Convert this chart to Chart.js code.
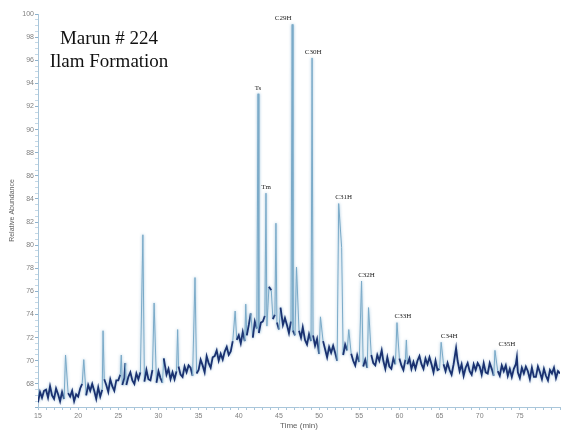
<!DOCTYPE html>
<html>
<head>
<meta charset="utf-8">
<script src="https://cdn.jsdelivr.net/npm/chart.js@4.4.1/dist/chart.umd.min.js"></script>
<style>
  html, body { margin: 0; padding: 0; background: #fff; }
</style>
</head>
<body>
<canvas id="tic" width="562" height="434"></canvas>
<script>
// baseline trace, one value every 0.25 min from 15 min
const startTime = 15;
const timeStep = 0.25;
const baseline = [
  66.4, 67.3, 66.8, 67.4,  67.5, 66.8, 67.8, 67.0,  66.7, 67.6, 67.1, 66.5,  67.3, 66.7, 66.3, 67.2,  66.9, 67.4, 66.5, 67.1,
  66.9, 67.6, 68.0, 67.3,  67.0, 67.9, 67.4, 68.0,  67.4, 66.7, 67.7, 66.9,  67.5, 68.4, 67.9, 67.3,  68.4, 67.8, 67.4, 68.3,
  68.3, 68.8, 67.9, 68.5,  67.9, 68.6, 69.0, 68.3,  68.0, 68.9, 68.4, 69.0,  68.9, 68.2, 69.2, 68.4,  68.3, 69.2, 68.7, 68.1,
  69.1, 68.5, 68.1, 69.0,  68.8, 69.3, 68.4, 69.0,  68.4, 69.1, 69.5, 68.8,  68.6, 69.5, 69.0, 69.6,  69.4, 68.7, 69.7, 68.9,
  69.2, 70.1, 69.6, 69.0,  70.4, 69.8, 69.4, 70.3,  70.4, 70.9, 70.0, 70.6,  70.1, 70.8, 71.2, 70.5,  70.8, 71.7, 71.2, 71.8,
  72.2, 71.5, 72.5, 71.7,  72.2, 73.1, 72.6, 72.0,  73.4, 72.8, 72.4, 73.3,  73.4, 73.9, 73.0, 73.6,  72.9, 73.6, 74.0, 73.3,
  72.7, 73.6, 73.1, 73.7,  73.1, 72.4, 73.4, 72.6,  72.2, 73.1, 72.6, 72.0,  72.4, 71.8, 71.4, 72.3,  71.7, 72.2, 71.3, 71.9,
  70.6, 71.3, 71.7, 71.0,  70.3, 71.2, 70.7, 71.3,  70.7, 70.0, 71.0, 70.2,  70.5, 71.4, 70.9, 70.3,  70.6, 70.0, 69.6, 70.5,
  69.9, 70.4, 69.5, 70.1,  69.4, 70.1, 70.5, 69.8,  69.6, 70.5, 70.0, 70.6,  70.0, 69.3, 70.3, 69.5,  69.3, 70.2, 69.7, 69.1,
  70.2, 69.6, 69.2, 70.1,  69.7, 70.2, 69.3, 69.9,  69.3, 70.0, 70.4, 69.7,  69.3, 70.2, 69.7, 70.3,  69.7, 69.0, 70.0, 69.2,
  69.3, 70.2, 69.7, 69.1,  69.8, 69.2, 68.8, 69.7,  69.5, 70.0, 69.1, 69.7,  68.7, 69.4, 69.8, 69.1,  68.8, 69.7, 69.2, 69.8,
  69.5, 68.8, 69.8, 69.0,  68.9, 69.8, 69.3, 68.7,  69.7, 69.1, 68.7, 69.6,  69.1, 69.6, 68.7, 69.3,  68.6, 69.3, 69.7, 69.0,
  68.5, 69.4, 68.9, 69.5,  69.1, 68.4, 69.4, 68.6,  68.6, 69.5, 69.0, 68.4,  69.3, 68.7, 68.3, 69.2,  68.9, 69.4, 68.5, 69.1,
  68.9
];

// peaks (time in min, relative abundance)
const peakTimes = [18.43, 20.70, 23.10, 25.37, 25.87, 28.06, 29.46, 30.66, 32.39, 34.55,
  39.55, 40.87, 41.49, 42.40, 43.39, 43.76, 44.05, 44.63, 45.20, 46.65, 47.19, 47.97,
  49.13, 50.17, 52.44, 52.81, 53.70, 55.29, 56.16, 57.80, 59.70, 60.87, 65.20, 67.06, 71.90, 74.63];
const peakHeights = [70.5, 70.1, 72.6, 70.5, 69.8, 80.9, 75.0, 70.2, 72.7, 77.2,
  74.3, 74.9, 74.1, 93.1, 84.5, 76.4, 76.1, 81.9, 74.6, 99.1, 78.1, 72.9,
  96.2, 73.8, 83.6, 79.8, 72.7, 76.9, 74.6, 70.9, 73.3, 71.8, 71.6, 71.1, 70.9, 70.3];
const peakNames = ['', '', '', '', '', '', '', '', '', '',
  '', '', '', 'Ts', 'Tm', '', '', '', '', 'C29H', '', '',
  'C30H', '', 'C31H', '', '', 'C32H', '', '', 'C33H', '', 'C34H', '', 'C35H', ''];

const navy = '#1a3170';
const spikeBlue = '#7aaac8';
const axisBlue = '#a9c6da';

const points = baseline
  .map((v, i) => ({ x: startTime + i * timeStep, y: v }))
  .filter(p => !peakTimes.some(t => Math.abs(t - p.x) < 0.1));
peakTimes.forEach((t, i) => points.push({ x: t, y: peakHeights[i] }));
points.sort((a, b) => a.x - b.x);

const isSpike = ctx => Math.abs(ctx.p0.y - ctx.p1.y) > 18;

// soft light-blue halo around the trace, like the scanned print
const traceHalo = {
  id: 'traceHalo',
  beforeDatasetsDraw(chart) {
    const { ctx } = chart;
    ctx.save();
    ctx.shadowColor = 'rgba(120, 170, 205, 0.8)';
    ctx.shadowBlur = 3;
  },
  afterDatasetsDraw(chart) {
    chart.ctx.restore();
  }
};

const peakLabels = {
  id: 'peakLabels',
  afterDatasetsDraw(chart, args, opts) {
    const { ctx, scales: { x, y } } = chart;
    ctx.save();
    ctx.font = '7px "Liberation Serif"';
    ctx.fillStyle = '#222';
    ctx.textAlign = 'center';
    ctx.textBaseline = 'middle';
    peakNames.forEach((name, i) => {
      if (!name) return;
      const dx = opts.offsets[name] || 0;
      ctx.fillText(name, x.getPixelForValue(peakTimes[i]) + dx, y.getPixelForValue(peakHeights[i]) - 6);
    });
    // sample caption
    ctx.font = '19px "Liberation Serif"';
    ctx.fillStyle = '#111';
    ctx.textBaseline = 'alphabetic';
    ctx.fillText('Marun # 224', 109, 44);
    ctx.fillText('Ilam Formation', 109, 67);
    ctx.restore();
  }
};

const tickFont = { family: '"Liberation Sans", Arial, sans-serif', size: 7 };

new Chart(document.getElementById('tic'), {
  type: 'line',
  data: {
    datasets: [{
      data: points,
      borderColor: navy,
      borderWidth: 1.8,
      pointRadius: 0,
      tension: 0,
      segment: {
        borderColor: ctx => (isSpike(ctx) ? spikeBlue : navy),
        borderWidth: ctx => (isSpike(ctx) ? 1 : 1.8)
      }
    }]
  },
  options: {
    responsive: false,
    animation: false,
    layout: { padding: { top: 14, right: 0, left: 0, bottom: 0 } },
    plugins: {
      legend: { display: false },
      tooltip: { enabled: false },
      peakLabels: {
        offsets: { 'C29H': -9, 'C30H': 1, 'C31H': 5, 'C32H': 5, 'C33H': 6, 'C34H': 8, 'C35H': 12 }
      }
    },
    scales: {
      x: {
        type: 'linear',
        min: 15,
        max: 80,
        afterFit: s => { s.height = 27; },
        border: { color: axisBlue },
        grid: { drawOnChartArea: false, tickLength: 3, color: axisBlue },
        ticks: {
          stepSize: 1,
          autoSkip: false,
          maxRotation: 0,
          padding: 2,
          color: '#808080',
          font: tickFont,
          callback: v => (v % 5 === 0 && v < 80 ? String(v) : '')
        },
        title: {
          display: true,
          text: 'Time (min)',
          color: '#606060',
          font: { family: '"Liberation Sans", Arial, sans-serif', size: 8 },
          padding: { top: 0, bottom: 3 }
        }
      },
      y: {
        min: 66,
        max: 100,
        afterFit: s => { s.width = 38; },
        border: { color: axisBlue },
        grid: {
          drawOnChartArea: false,
          tickLength: 3,
          color: ctx => (ctx.tick && ctx.tick.value % 2 === 0 ? '#8fb2cc' : '#c4d8e6')
        },
        ticks: {
          stepSize: 0.5,
          autoSkip: false,
          padding: 1,
          color: '#808080',
          font: tickFont,
          callback: v => (v % 2 === 0 && v > 66 ? String(v) : '')
        },
        title: {
          display: true,
          text: 'Relative Abundance',
          color: '#606060',
          font: { family: '"Liberation Sans", Arial, sans-serif', size: 7 },
          padding: { top: 8, bottom: 0 }
        }
      }
    }
  },
  plugins: [traceHalo, peakLabels]
});
</script>
</body>
</html>
